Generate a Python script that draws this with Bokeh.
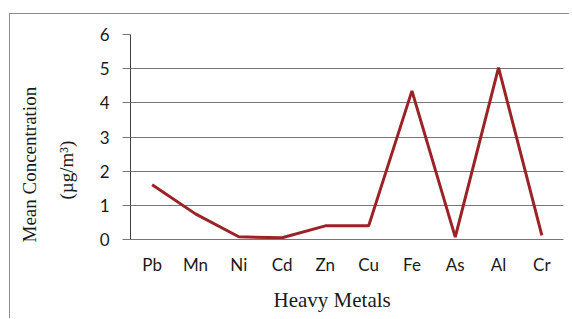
from bokeh.plotting import figure
from bokeh.models import Title, FixedTicker
from bokeh.embed import file_html
from bokeh.resources import INLINE

metals = ["Pb", "Mn", "Ni", "Cd", "Zn", "Cu", "Fe", "As", "Al", "Cr"]
mean_conc = [1.6, 0.75, 0.08, 0.05, 0.4, 0.4, 4.35, 0.07, 5.03, 0.12]
y_ticks = [0, 1, 2, 3, 4, 5, 6]

p = figure(x_range=metals, y_range=(0, 6), width=560, height=305,
           output_backend="svg", toolbar_location=None,
           min_border_left=120, min_border_right=7, min_border_top=20, min_border_bottom=80)
p.styles = {"border-top": "1px solid #8c8c8c", "border-left": "1px solid #8c8c8c",
            "margin-left": "9px", "margin-top": "13px"}
p.outline_line_color = None
p.background_fill_color = "white"
p.border_fill_color = "white"

p.line(metals, mean_conc, line_color="#9b2226", line_width=3)

p.xgrid.grid_line_color = None
p.ygrid.grid_line_color = "#767676"
p.ygrid.grid_line_width = 1

p.yaxis.ticker = FixedTicker(ticks=y_ticks)
p.yaxis.minor_tick_line_color = None
p.yaxis.major_tick_in = 0
p.yaxis.major_tick_out = 8
p.yaxis.major_tick_line_color = "#767676"
p.yaxis.axis_line_color = "#404040"
p.yaxis.major_label_standoff = 13
p.yaxis.major_label_text_font = "Lato"
p.yaxis.major_label_text_font_size = "17px"
p.yaxis.major_label_text_color = "#1a1a1a"

p.xaxis.major_tick_line_color = None
p.xaxis.axis_line_color = "#767676"
p.xaxis.major_label_standoff = 8
p.xaxis.major_label_text_font = "Lato"
p.xaxis.major_label_text_font_size = "17px"
p.xaxis.major_label_text_color = "#1a1a1a"

serif = "Liberation Serif"
p.add_layout(Title(text="(µg/m³)", align="left", offset=40, standoff=40,
                   text_font=serif, text_font_size="19px", text_font_style="normal",
                   text_line_height=1.0, text_color="#1a1a1a"), "left")
p.add_layout(Title(text="Mean Concentration", align="left", offset=-3, standoff=-12,
                   text_font=serif, text_font_size="19px", text_font_style="normal",
                   text_line_height=1.0, text_color="#1a1a1a"), "left")
p.add_layout(Title(text="Heavy Metals", align="left", offset=143, standoff=16,
                   text_font=serif, text_font_size="21px", text_font_style="normal",
                   text_line_height=1.0, text_color="#1a1a1a"), "below")

open("out.html", "w").write(file_html(p, INLINE))
